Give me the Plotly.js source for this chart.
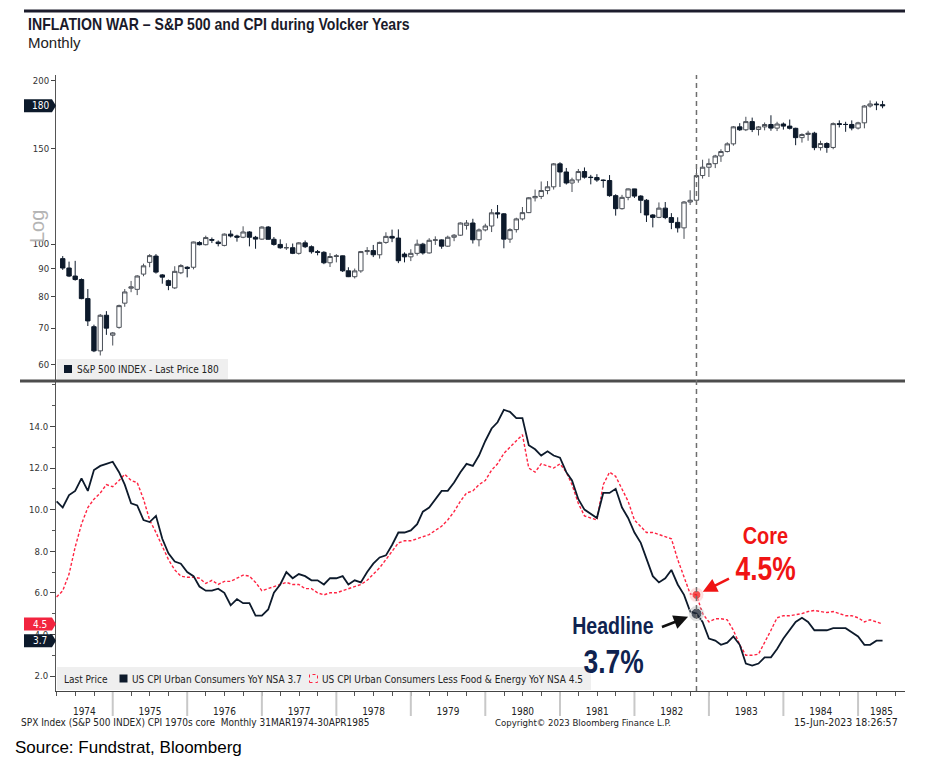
<!DOCTYPE html>
<html><head><meta charset="utf-8">
<script src="https://cdn.plot.ly/plotly-3.0.1.min.js"></script>
<style>html,body{margin:0;padding:0;background:#fff}</style>
</head><body><div id="chart" style="width:928px;height:760px"></div>
<script>
// ---------------- DATA ----------------
// S&P 500 monthly candles, Apr 1974 .. Apr 1985
const spxStart = [1974, 4];
const spxOpen = [
 93.98,90.31,87.28,86.00,79.31,70.40,63.54,73.90,67.90,
 70.20,77.80,82.90,82.50,88.00,92.50,95.00,87.70,85.60,83.00,88.50,90.60,
 90.60,100.60,99.70,101.90,100.80,99.40,104.28,103.44,102.91,105.24,102.90,102.10,
 107.46,102.03,99.82,98.42,98.44,96.12,100.48,98.85,96.77,96.53,92.34,94.83,
 95.10,89.25,87.04,89.21,96.83,97.24,95.53,100.68,103.29,102.54,95.80,94.70,
 96.11,99.93,96.28,101.59,101.76,99.08,102.91,103.81,108.20,109.32,101.82,106.16,
 107.94,114.16,113.66,102.09,106.29,111.24,114.24,121.67,122.38,125.46,127.47,140.52,
 135.76,129.55,131.27,136.00,132.81,132.59,131.21,130.92,122.79,116.18,121.89,126.35,
 122.55,120.40,113.11,111.96,116.44,111.88,109.61,107.09,119.51,120.42,133.71,138.54,
 140.64,145.30,148.06,152.96,164.42,162.39,168.11,162.56,164.40,166.07,163.55,166.40,
 164.93,163.41,157.06,159.18,160.05,150.55,153.18,150.66,166.68,166.10,166.09,163.58,
 167.24,179.63,181.18,180.66];
const spxHigh = [
 95.0,92.8,93.1,86.4,82.6,71.0,74.3,75.2,68.8,
 77.3,82.6,85.5,87.6,92.0,95.8,95.8,88.0,86.0,91.0,91.8,91.0,
 101.0,101.2,103.6,102.8,101.5,104.6,106.0,104.0,107.8,105.6,103.5,107.8,
 107.9,103.0,102.0,100.3,100.2,100.8,101.5,99.4,97.5,97.0,96.2,95.8,
 95.2,90.6,90.1,97.1,98.7,99.6,101.0,105.1,106.3,106.4,96.5,97.8,
 101.9,100.5,102.5,103.3,102.0,103.6,104.3,109.6,110.7,111.3,106.8,109.0,
 116.0,118.0,114.0,106.9,111.8,117.0,122.0,126.0,130.4,130.6,141.0,141.5,
 138.1,132.5,137.5,138.4,134.1,134.5,131.5,134.0,123.5,123.2,126.6,126.4,
 123.0,121.0,113.5,119.3,119.5,114.0,112.0,120.0,125.6,138.0,143.0,143.7,
 146.0,149.5,154.0,165.0,167.0,171.6,171.0,165.0,167.5,172.7,168.0,167.5,
 169.6,163.8,159.9,161.7,161.0,155.0,154.0,167.5,169.0,168.0,169.0,168.0,
 180.3,183.9,183.1,183.6];
const spxLow = [
 89.6,86.9,85.6,79.1,70.6,63.2,62.3,68.0,65.0,
 69.8,76.6,81.5,80.5,87.2,90.6,88.2,84.5,82.2,82.6,88.0,86.8,
 89.8,99.4,99.4,100.4,99.0,99.0,102.8,101.0,102.5,99.0,98.0,101.8,
 101.9,99.3,98.0,97.5,95.8,95.6,98.3,96.0,95.3,91.8,90.7,92.5,
 88.8,86.9,86.4,88.5,95.5,94.6,94.0,100.1,100.8,92.2,92.5,93.0,
 95.2,95.6,96.0,99.6,98.0,98.8,101.2,103.5,106.3,100.2,99.0,105.5,
 105.2,111.5,98.2,100.5,105.0,110.5,114.0,119.8,121.0,123.5,126.0,127.4,
 128.7,124.7,129.7,132.0,128.8,130.2,127.0,122.2,112.8,115.7,120.4,121.6,
 114.0,109.8,107.3,111.6,111.1,106.5,105.0,102.2,118.0,119.5,132.0,132.9,
 138.0,141.7,147.5,151.8,161.6,161.5,160.8,158.5,162.0,161.7,161.5,162.5,
 162.6,152.1,153.8,155.0,148.9,148.7,147.3,149.5,164.0,161.0,162.0,162.6,
 163.4,178.4,176.5,177.9];
const spxClose = [
 90.31,87.28,86.00,79.31,72.15,63.54,73.90,69.97,68.56,
 76.98,81.59,83.36,87.30,91.15,95.19,88.75,86.88,83.87,89.04,91.24,90.19,
 100.86,99.71,102.77,101.64,100.18,104.28,103.44,102.91,105.24,102.90,102.10,107.46,
 102.03,99.82,98.42,98.44,96.12,100.48,98.85,96.77,96.53,92.34,94.83,95.10,
 89.25,87.04,89.21,96.83,97.24,95.53,100.68,103.29,102.54,93.15,94.70,96.11,
 99.93,96.28,101.59,101.76,99.08,102.91,103.81,109.32,109.32,101.82,106.16,107.94,
 114.16,113.66,102.09,106.29,111.24,114.24,121.67,122.38,125.46,127.47,140.52,135.76,
 129.55,131.27,136.00,132.81,132.59,131.21,130.92,122.79,116.18,121.89,126.35,122.55,
 120.40,113.11,111.96,116.44,111.88,109.61,107.09,119.51,120.42,133.71,138.54,140.64,
 145.30,148.06,152.96,164.42,162.39,168.11,162.56,164.40,166.07,163.55,166.40,164.93,
 163.41,157.06,159.18,160.05,150.55,153.18,150.66,166.68,166.10,166.09,163.58,167.24,
 179.63,181.18,180.66,179.83];

// CPI YoY %, Mar 1974 .. Apr 1985
const cpiStart = [1974, 3];
const cpiHeadline = [
 10.4,10.1,10.7,10.9,11.5,10.9,11.9,12.1,12.2,12.3,
 11.8,11.2,10.3,10.2,9.5,9.4,9.7,8.6,7.9,7.5,7.4,7.0,
 6.8,6.3,6.1,6.1,6.2,6.0,5.4,5.7,5.5,5.5,4.9,4.9,
 5.2,6.0,6.4,7.0,6.7,6.9,6.8,6.6,6.6,6.4,6.7,6.7,
 6.8,6.4,6.6,6.5,7.0,7.4,7.7,7.8,8.3,8.9,8.9,9.0,
 9.3,9.9,10.1,10.5,10.9,10.9,11.3,11.8,12.2,12.1,12.6,13.3,
 13.9,14.2,14.8,14.7,14.4,14.4,13.1,12.9,12.6,12.8,12.6,12.5,
 11.8,11.4,10.5,10.0,9.8,9.6,10.8,10.8,11.0,10.1,9.6,8.9,
 8.4,7.6,6.8,6.5,6.7,7.1,6.4,5.9,5.1,5.0,4.6,3.8,
 3.7,3.5,3.6,3.9,3.5,2.6,2.5,2.6,2.9,2.9,3.3,3.8,
 4.2,4.6,4.8,4.6,4.2,4.2,4.2,4.3,4.3,4.3,4.1,3.9,
 3.5,3.5,3.7,3.7];
const cpiCore = [
 5.8,6.1,6.9,8.2,9.3,10.1,10.5,10.8,11.2,11.1,
 11.4,11.7,11.4,11.3,10.5,9.5,8.9,8.2,7.6,7.1,6.8,6.75,
 6.75,6.7,6.45,6.6,6.4,6.55,6.55,6.7,6.85,6.8,6.5,6.1,
 6.2,6.3,6.4,6.5,6.4,6.4,6.2,6.2,6.0,5.9,6.0,6.0,
 6.1,6.2,6.3,6.4,6.6,6.9,7.2,7.6,8.0,8.4,8.5,8.5,
 8.6,8.7,8.8,9.0,9.2,9.5,9.9,10.4,10.8,10.9,11.2,11.4,
 11.9,12.2,12.7,13.0,13.3,13.6,12.0,11.8,12.2,12.1,12.0,12.2,
 11.8,11.2,10.3,9.7,9.6,9.5,11.2,11.8,11.6,11.0,10.4,9.5,
 9.2,8.9,8.9,8.8,8.7,8.6,7.6,6.8,5.95,5.9,5.0,4.6,
 4.75,4.75,4.7,4.2,3.5,3.0,3.0,3.05,3.6,4.2,4.8,4.9,
 4.9,4.95,5.0,5.1,5.15,5.1,5.05,5.1,5.0,4.9,4.9,4.8,
 4.6,4.7,4.6,4.5];

const yearLabels = ['1974','1975','1976','1977','1978','1979','1980','1981','1982','1983','1984','1985'];
const spxTicks = [60,70,80,90,100,150,200];
const cpiTicks = [2,4,6,8,10,12,14];
const focusMonth = '1982-10';

// ---------------- HELPERS ----------------
function monthEnds(y, m, n){
  const out=[];
  for(let i=0;i<n;i++){ const d=new Date(Date.UTC(y, m+i, 0)); out.push(d.toISOString().slice(0,10)); }
  return out;
}
const spxDates = monthEnds(spxStart[0], spxStart[1], spxClose.length);
const cpiDates = monthEnds(cpiStart[0], cpiStart[1], cpiHeadline.length);
const fIdx = cpiDates.findIndex(d => d.startsWith(focusMonth));
const focusDate = cpiDates[fIdx];

const W=928,H=760,ML=56,MR=23,MT=75,MB=69;
const PW=W-ML-MR, PH=H-MT-MB;
const px = p => (p-ML)/PW;
const py = p => (H-MB-p)/PH;
const topPx=[75,380], botPx=[382,691];
const topDom=[py(topPx[1]),1], botDom=[0,py(botPx[0])];
const yTopRange=[1.74931,2.31153];
const yBotRange=[1.279,16.135];
const xRange=['1974-03-28','1985-08-18'];
const topValPx = v => topPx[0] + (yTopRange[1]-Math.log10(v))/(yTopRange[1]-yTopRange[0])*(topPx[1]-topPx[0]);
const botValPx = v => botPx[0] + (yBotRange[1]-v)/(yBotRange[1]-yBotRange[0])*(botPx[1]-botPx[0]);

const toStr = ms => new Date(ms).toISOString().replace('T',' ').slice(0,19);
const xr0 = Date.parse(xRange[0]+'T00:00:00Z'), xr1 = Date.parse(xRange[1]+'T00:00:00Z');
const yearMid=[], sepDates=[];
yearLabels.forEach((y,i)=>{
  const a = Math.max(xr0, Date.UTC(+y-1,11,31));
  const b = Math.min(xr1, Date.UTC(+y,11,31));
  yearMid.push(toStr((a+b)/2));
  if(i<yearLabels.length-1) sepDates.push(toStr(Date.UTC(+y,11,31)));
});

// ---------------- TRACES ----------------
const NAVY='#0d1a2b', RED='#ff2442';
const traces = [
  {type:'candlestick', x:spxDates, open:spxOpen, high:spxHigh, low:spxLow, close:spxClose,
   xaxis:'x', yaxis:'y', hoverinfo:'skip', whiskerwidth:0,
   increasing:{line:{color:'#4a4f57', width:1}, fillcolor:'#ffffff'},
   decreasing:{line:{color:NAVY, width:1}, fillcolor:NAVY}},
  {type:'scatter', mode:'lines', x:cpiDates, y:cpiCore, xaxis:'x2', yaxis:'y2',
   line:{color:RED, width:1.4, dash:'3px,2px'}, hoverinfo:'skip'},
  {type:'scatter', mode:'lines', x:cpiDates, y:cpiHeadline, xaxis:'x2', yaxis:'y2',
   line:{color:NAVY, width:1.8}, hoverinfo:'skip'},
  {type:'scatter', mode:'markers', x:[focusDate,focusDate], y:[cpiCore[fIdx], cpiHeadline[fIdx]], xaxis:'x2', yaxis:'y2',
   marker:{size:[15,16], color:['rgba(255,120,120,0.35)','rgba(120,120,120,0.35)']}, hoverinfo:'skip'},
  {type:'scatter', mode:'markers', x:[focusDate,focusDate], y:[cpiCore[fIdx], cpiHeadline[fIdx]], xaxis:'x2', yaxis:'y2',
   marker:{size:[9,11], color:['#f01414','#1b2333']}, hoverinfo:'skip'}
];

// ---------------- SHAPES / ANNOTATIONS ----------------
const shapes=[], ann=[], squeeze=[];
const TICKFONT = '"DejaVu Sans Condensed", "DejaVu Sans", sans-serif';
const SANS = '"Liberation Sans", Arial, sans-serif';
// top rule
shapes.push({type:'line', xref:'paper', yref:'paper', x0:px(24), x1:px(905), y0:py(11), y1:py(11), line:{color:'#1c1c2c', width:3}});
// panel divider
shapes.push({type:'line', xref:'paper', yref:'paper', x0:px(20), x1:px(905), y0:py(381), y1:py(381), line:{color:'#4d4d4d', width:3}});
// year separators
sepDates.forEach(d=>shapes.push({type:'line', xref:'x2', yref:'paper', x0:d, x1:d, y0:py(692), y1:py(716), line:{color:'#c8c8c8', width:2}}));
// focus dashed line
shapes.push({type:'line', xref:'x2', yref:'paper', x0:focusDate, x1:focusDate, y0:py(691), y1:py(75), line:{color:'#6e6e6e', width:1.5, dash:'5px,4px'}});

function tag(cy, color, text){
  const h=6.5, l=24, r=52, t=56;
  shapes.push({type:'path', xref:'paper', yref:'paper', fillcolor:color, line:{width:0},
    path:`M ${px(l)} ${py(cy-h)} L ${px(r)} ${py(cy-h)} L ${px(t)} ${py(cy)} L ${px(r)} ${py(cy+h)} L ${px(l)} ${py(cy+h)} Z`});
  ann.push({xref:'paper', yref:'paper', x:px(40), y:py(cy), text:text, showarrow:false, xanchor:'center', yanchor:'middle',
    font:{family:TICKFONT, size:10, color:'#ffffff'}});
}
const lastSpx = spxClose[spxClose.length-1];
const lastHead = cpiHeadline[cpiHeadline.length-1];
const lastCore = cpiCore[cpiCore.length-1];
tag(topValPx(lastSpx), NAVY, lastSpx.toFixed(0));
tag(botValPx(lastCore), '#f2243f', lastCore.toFixed(1));
tag(botValPx(lastHead), NAVY, lastHead.toFixed(1));

// legends
shapes.push({type:'rect', xref:'paper', yref:'paper', x0:px(57), x1:px(228), y0:py(379), y1:py(359), fillcolor:'#efefef', line:{width:0}, layer:'above'});
shapes.push({type:'rect', xref:'paper', yref:'paper', x0:px(64), x1:px(72), y0:py(373), y1:py(365), fillcolor:NAVY, line:{width:0}, layer:'above'});
ann.push({xref:'paper', yref:'paper', x:px(75), y:py(369.5), xanchor:'left', yanchor:'middle', showarrow:false,
  text:'S&P 500 INDEX - Last Price '+lastSpx.toFixed(0), font:{family:TICKFONT, size:10, color:'#222'}});

shapes.push({type:'rect', xref:'paper', yref:'paper', x0:px(57), x1:px(591), y0:py(690), y1:py(667), fillcolor:'#efefef', line:{width:0}, layer:'above'});
shapes.push({type:'rect', xref:'paper', yref:'paper', x0:px(119.5), x1:px(127.5), y0:py(682.5), y1:py(674.5), fillcolor:NAVY, line:{width:0}, layer:'above'});
shapes.push({type:'rect', xref:'paper', yref:'paper', x0:px(309.5), x1:px(317.5), y0:py(682.5), y1:py(674.5), fillcolor:'rgba(0,0,0,0)', line:{width:1, color:RED, dash:'dot'}, layer:'above'});
ann.push({xref:'paper', yref:'paper', x:px(62), y:py(679), xanchor:'left', yanchor:'middle', showarrow:false,
  text:'Last Price', font:{family:TICKFONT, size:10, color:'#222'}});
ann.push({xref:'paper', yref:'paper', x:px(130), y:py(679), xanchor:'left', yanchor:'middle', showarrow:false,
  text:'US CPI Urban Consumers YoY NSA '+lastHead.toFixed(1), font:{family:TICKFONT, size:10, color:'#222'}});
ann.push({xref:'paper', yref:'paper', x:px(320), y:py(679), xanchor:'left', yanchor:'middle', showarrow:false,
  text:'US CPI Urban Consumers Less Food &amp; Energy YoY NSA '+lastCore.toFixed(1), font:{family:TICKFONT, size:10, color:'#222'}});

// Log label
ann.push({xref:'paper', yref:'paper', x:px(37), y:py(227), text:'Log', textangle:-90, showarrow:false, xanchor:'center', yanchor:'middle',
  font:{family:SANS, size:20, color:'#b4b4b4'}});

// Title
squeeze.push([ann.push({xref:'paper', yref:'paper', x:px(26), y:py(25), xanchor:'left', yanchor:'middle', showarrow:false,
  text:'<b>INFLATION WAR – S&amp;P 500 and CPI during Volcker Years</b>', font:{family:SANS, size:16, color:'#1a1a2a'}})-1, 0.88, 'left']);
ann.push({xref:'paper', yref:'paper', x:px(26), y:py(43), xanchor:'left', yanchor:'middle', showarrow:false,
  text:'Monthly', font:{family:SANS, size:15, color:'#222'}});

// footers
ann.push({xref:'paper', yref:'paper', x:px(19), y:py(722), xanchor:'left', yanchor:'middle', showarrow:false,
  text:'SPX Index (S&amp;P 500 INDEX) CPI 1970s core  Monthly 31MAR1974-30APR1985', font:{family:TICKFONT, size:10, color:'#222'}});
ann.push({xref:'paper', yref:'paper', x:px(493), y:py(722), xanchor:'left', yanchor:'middle', showarrow:false,
  text:'Copyright© 2023 Bloomberg Finance L.P.', font:{family:TICKFONT, size:9.5, color:'#222'}});
ann.push({xref:'paper', yref:'paper', x:px(900), y:py(722), xanchor:'right', yanchor:'middle', showarrow:false,
  text:'15-Jun-2023 18:26:57', font:{family:TICKFONT, size:10.5, color:'#222'}});
ann.push({xref:'paper', yref:'paper', x:px(13), y:py(747), xanchor:'left', yanchor:'middle', showarrow:false,
  text:'Source: Fundstrat, Bloomberg', font:{family:SANS, size:17, color:'#000'}});

// callouts
ann.push({xref:'x2', yref:'y2', x:focusDate, y:cpiCore[fIdx], ax:34, ay:-17, text:'', showarrow:true,
  arrowhead:2, arrowsize:1.1, arrowwidth:2.6, arrowcolor:'#f01414', standoff:7});
ann.push({xref:'x2', yref:'y2', x:focusDate, y:cpiHeadline[fIdx], ax:-36, ay:14, text:'', showarrow:true,
  arrowhead:2, arrowsize:1.1, arrowwidth:2.6, arrowcolor:'#111', standoff:9});
squeeze.push([ann.push({xref:'paper', yref:'paper', x:px(765), y:py(535), xanchor:'center', yanchor:'middle', showarrow:false,
  text:'<b>Core</b>', font:{family:SANS, size:24, color:'#f01414'}})-1, 0.83, 'center']);
squeeze.push([ann.push({xref:'paper', yref:'paper', x:px(765), y:py(568), xanchor:'center', yanchor:'middle', showarrow:false,
  text:'<b>'+lastCore.toFixed(1)+'%</b>', font:{family:SANS, size:33, color:'#f01414'}})-1, 0.8, 'center']);
squeeze.push([ann.push({xref:'paper', yref:'paper', x:px(613), y:py(626), xanchor:'center', yanchor:'middle', showarrow:false,
  text:'<b>Headline</b>', font:{family:SANS, size:23, color:'#0f2350'}})-1, 0.85, 'center']);
squeeze.push([ann.push({xref:'paper', yref:'paper', x:px(613), y:py(661), xanchor:'center', yanchor:'middle', showarrow:false,
  text:'<b>'+lastHead.toFixed(1)+'%</b>', font:{family:SANS, size:33, color:'#0f2350'}})-1, 0.8, 'center']);

// ---------------- LAYOUT ----------------
const layout = {
  width:W, height:H, margin:{l:ML, r:MR, t:MT, b:MB}, paper_bgcolor:'#fff', plot_bgcolor:'#fff',
  showlegend:false, boxgap:0.15, boxgroupgap:0.1,
  font:{family:TICKFONT, size:9.5, color:'#333'},
  xaxis:{type:'date', range:xRange, anchor:'y', domain:[0,1], showticklabels:false, ticks:'', showgrid:false, zeroline:false, showline:false,
    rangeslider:{visible:false}, fixedrange:true},
  yaxis:{type:'log', domain:topDom, range:yTopRange, tickvals:spxTicks, ticktext:spxTicks.map(String), ticks:'outside', ticklen:4,
    tickcolor:'#444', showline:true, linecolor:'#555', linewidth:1, showgrid:false, zeroline:false,
    tickfont:{family:TICKFONT, size:9.5, color:'#333'}, fixedrange:true},
  xaxis2:{type:'date', range:xRange, anchor:'y2', domain:[0,1], tickmode:'array', tickvals:yearMid, ticktext:yearLabels, ticks:'',
    ticklabelstandoff:11, showline:true, linecolor:'#444', linewidth:1, showgrid:false, zeroline:false,
    tickfont:{family:TICKFONT, size:10, color:'#222'},
    minor:{tickmode:'linear', tick0:'1974-01-01', dtick:'M3', ticks:'outside', ticklen:4, tickcolor:'#555', showgrid:false}, fixedrange:true},
  yaxis2:{domain:botDom, range:yBotRange, tickvals:cpiTicks, ticktext:cpiTicks.map(v=>v.toFixed(1)), ticks:'outside', ticklen:5,
    tickcolor:'#444', showline:true, linecolor:'#555', linewidth:1, showgrid:false, zeroline:false,
    minor:{tickmode:'linear', tick0:0, dtick:1, ticks:'outside', ticklen:3, tickcolor:'#555', showgrid:false},
    tickfont:{family:TICKFONT, size:9.5, color:'#333'}, fixedrange:true},
  shapes:shapes, annotations:ann
};
Plotly.newPlot('chart', traces, layout, {staticPlot:true, displayModeBar:false}).then(gd=>{
  // narrow the condensed-style captions (no narrow font is installed)
  squeeze.forEach(([i, s, origin])=>{
    const t = gd.querySelector('g.annotation[data-index="'+i+'"] text.annotation-text');
    if(t){ t.style.transformBox='fill-box'; t.style.transformOrigin=origin+' center'; t.style.transform='scaleX('+s+')'; }
  });
});
</script></body></html>
